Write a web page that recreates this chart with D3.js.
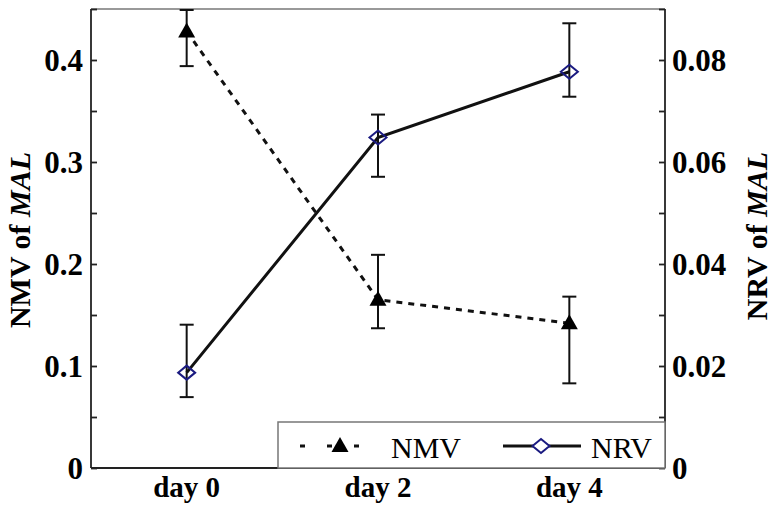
<!DOCTYPE html>
<html>
<head>
<meta charset="utf-8">
<script src="https://cdn.jsdelivr.net/npm/d3@7"></script>
<style>
  body { margin: 0; background: #fff; }
  svg { display: block; font-family: "Liberation Serif", "Times New Roman", serif; }
</style>
</head>
<body>
<svg id="chart" width="777" height="514"></svg>
<script>
// values
var categories = ["day 0", "day 2", "day 4"];
var nmv = [0.428, 0.165, 0.142];
var nmvLow = [0.394, 0.137, 0.083];
var nmvHigh = [0.449, 0.209, 0.168];
var nrv = [0.0187, 0.0648, 0.0777];
var nrvLow = [0.0139, 0.0571, 0.0728];
var nrvHigh = [0.0281, 0.0693, 0.0872];
var leftTicks = [0, 0.1, 0.2, 0.3, 0.4];
var rightTicks = [0, 0.02, 0.04, 0.06, 0.08];

var svg = d3.select("#chart");
// note: "top" is a read-only window global, so use other names
var pLeft = 91, pRight = 665, pTop = 9, pBottom = 468;

var x = d3.scaleBand().domain(categories).range([pLeft, pRight]).padding(0);
var yL = d3.scaleLinear().domain([0, 0.45]).range([pBottom, pTop]);
var yR = d3.scaleLinear().domain([0, 0.09]).range([pBottom, pTop]);
function cx(i) { return x(categories[i]) + x.bandwidth() / 2; }

// frame top
svg.append("line").attr("x1", pLeft).attr("x2", pRight).attr("y1", pTop).attr("y2", pTop)
  .attr("stroke", "#999").attr("stroke-width", 2);

// left axis, ticks inward
var gL = svg.append("g").attr("transform", "translate(" + pLeft + ",0)");
gL.call(d3.axisRight(yL).tickValues(d3.range(0, 0.451, 0.05)).tickSize(6).tickFormat(""));
gL.select(".domain").attr("d", "M0," + pTop + "V" + pBottom);
gL.selectAll("line, path").attr("stroke", "#222").attr("stroke-width", 1.8);
leftTicks.forEach(function(v) {
  svg.append("text").attr("x", 83).attr("y", yL(v)).attr("dy", "0.35em")
    .attr("text-anchor", "end").attr("font-size", 31).attr("font-weight", "bold")
    .text(v === 0 ? "0" : d3.format(".1f")(v));
});

// right axis, ticks inward
var gR = svg.append("g").attr("transform", "translate(" + pRight + ",0)");
gR.call(d3.axisLeft(yR).tickValues(d3.range(0, 0.0901, 0.01)).tickSize(6).tickFormat(""));
gR.select(".domain").attr("d", "M0," + pTop + "V" + pBottom);
gR.selectAll("line, path").attr("stroke", "#222").attr("stroke-width", 1.8);
rightTicks.forEach(function(v) {
  svg.append("text").attr("x", 672).attr("y", yR(v)).attr("dy", "0.35em")
    .attr("text-anchor", "start").attr("font-size", 31).attr("font-weight", "bold")
    .text(v === 0 ? "0" : d3.format(".2f")(v));
});

// bottom axis with ticks at band boundaries
svg.append("line").attr("x1", pLeft).attr("x2", pRight).attr("y1", pBottom).attr("y2", pBottom)
  .attr("stroke", "#222").attr("stroke-width", 2);
categories.slice(1).forEach(function(c) {
  svg.append("line").attr("x1", x(c)).attr("x2", x(c)).attr("y1", pBottom).attr("y2", pBottom - 6)
    .attr("stroke", "#222").attr("stroke-width", 1.8);
});
categories.forEach(function(c, i) {
  svg.append("text").attr("x", cx(i)).attr("y", 497).attr("text-anchor", "middle")
    .attr("font-size", 29).attr("font-weight", "bold").text(c);
});

// axis titles
var tl = svg.append("text").attr("transform", "translate(30,240) rotate(-90)")
  .attr("text-anchor", "middle").attr("font-size", 30).attr("font-weight", "bold");
tl.append("tspan").text("NMV of ");
tl.append("tspan").attr("font-style", "italic").text("MAL");
var tr = svg.append("text").attr("transform", "translate(767,236) rotate(-90)")
  .attr("text-anchor", "middle").attr("font-size", 30).attr("font-weight", "bold");
tr.append("tspan").text("NRV of ");
tr.append("tspan").attr("font-style", "italic").text("MAL");

// lines
var lineL = d3.line().x(function(d, i) { return cx(i); }).y(function(d) { return yL(d); });
var lineR = d3.line().x(function(d, i) { return cx(i); }).y(function(d) { return yR(d); });
svg.append("path").attr("d", lineL(nmv)).attr("fill", "none").attr("stroke", "#111")
  .attr("stroke-width", 3).attr("stroke-dasharray", "6,6");
svg.append("path").attr("d", lineR(nrv)).attr("fill", "none").attr("stroke", "#111")
  .attr("stroke-width", 3);

// error bars
function errBars(lo, hi, scale) {
  lo.forEach(function(v, i) {
    var g = svg.append("g").attr("stroke", "#111").attr("stroke-width", 2);
    g.append("line").attr("x1", cx(i)).attr("x2", cx(i)).attr("y1", scale(v)).attr("y2", scale(hi[i]));
    g.append("line").attr("x1", cx(i) - 7).attr("x2", cx(i) + 7).attr("y1", scale(v)).attr("y2", scale(v));
    g.append("line").attr("x1", cx(i) - 7).attr("x2", cx(i) + 7).attr("y1", scale(hi[i])).attr("y2", scale(hi[i]));
  });
}
errBars(nmvLow, nmvHigh, yL);
errBars(nrvLow, nrvHigh, yR);

// markers
var tri = "M0,-9L8.5,6L-8.5,6Z";
var dia = "M0,-7L8.5,0L0,7L-8.5,0Z";
nmv.forEach(function(v, i) {
  svg.append("path").attr("d", tri).attr("transform", "translate(" + cx(i) + "," + yL(v) + ")")
    .attr("fill", "#000");
});
nrv.forEach(function(v, i) {
  svg.append("path").attr("d", dia).attr("transform", "translate(" + cx(i) + "," + yR(v) + ")")
    .attr("fill", "none").attr("stroke", "#1a1a80").attr("stroke-width", 2);
});

// legend
var lg = svg.append("g");
lg.append("rect").attr("x", 278).attr("y", 422).attr("width", pRight - 278).attr("height", pBottom - 422)
  .attr("fill", "#fff").attr("stroke", "#777").attr("stroke-width", 1.5);
lg.append("line").attr("x1", 300).attr("x2", 378).attr("y1", 446).attr("y2", 446)
  .attr("stroke", "#111").attr("stroke-width", 3).attr("stroke-dasharray", "5,22");
lg.append("path").attr("d", tri).attr("transform", "translate(340,446)").attr("fill", "#000");
lg.append("text").attr("x", 391).attr("y", 458).attr("font-size", 30).text("NMV");
lg.append("line").attr("x1", 503).attr("x2", 581).attr("y1", 446).attr("y2", 446)
  .attr("stroke", "#111").attr("stroke-width", 3);
lg.append("path").attr("d", dia).attr("transform", "translate(541,446)")
  .attr("fill", "#fff").attr("stroke", "#1a1a80").attr("stroke-width", 2);
lg.append("text").attr("x", 591).attr("y", 458).attr("font-size", 30).text("NRV");
</script>
</body>
</html>
